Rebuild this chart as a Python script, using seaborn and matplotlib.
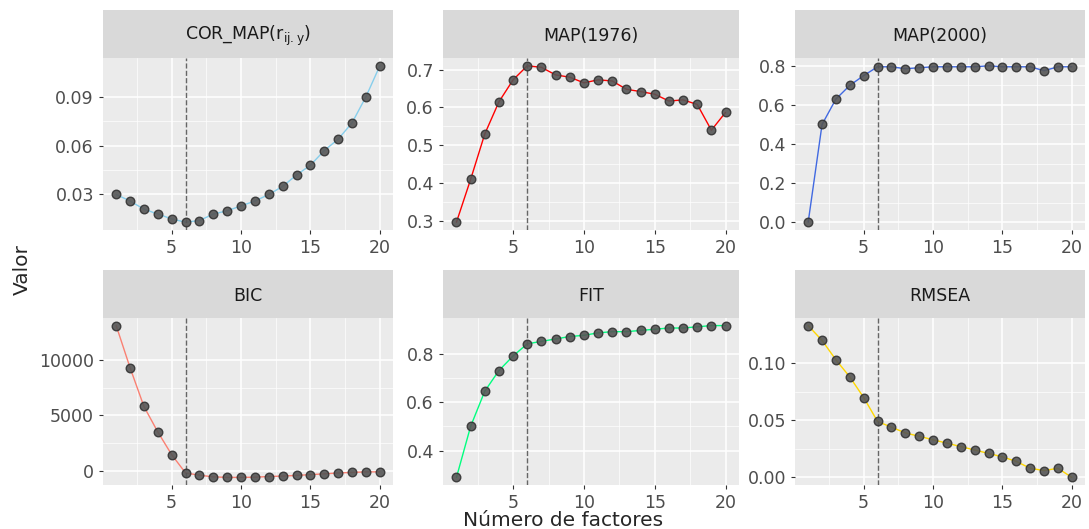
import numpy as np
import pandas as pd
import matplotlib
matplotlib.use("Agg")
import matplotlib.pyplot as plt
import seaborn as sns

factores = list(range(1, 21))
cor_map = [0.030, 0.026, 0.021, 0.018, 0.015, 0.013, 0.014, 0.018, 0.020, 0.023,
           0.026, 0.030, 0.035, 0.042, 0.048, 0.057, 0.064, 0.074, 0.090, 0.109]
map_1976 = [0.297, 0.41, 0.53, 0.615, 0.673, 0.71, 0.706, 0.686, 0.68, 0.665,
            0.673, 0.67, 0.648, 0.642, 0.635, 0.617, 0.62, 0.608, 0.54, 0.587]
map_2000 = [0.0, 0.50, 0.63, 0.70, 0.75, 0.795, 0.795, 0.785, 0.79, 0.795,
            0.795, 0.795, 0.795, 0.80, 0.795, 0.795, 0.795, 0.775, 0.795, 0.795]
bic = [13100, 9300, 5800, 3500, 1450, -200, -400, -550, -600, -600,
       -580, -520, -480, -420, -350, -280, -200, -150, -100, -100]
fit = [0.29, 0.50, 0.645, 0.73, 0.79, 0.84, 0.85, 0.86, 0.87, 0.875,
       0.885, 0.89, 0.89, 0.895, 0.90, 0.905, 0.905, 0.91, 0.915, 0.915]
rmsea = [0.133, 0.12, 0.103, 0.088, 0.07, 0.049, 0.044, 0.039, 0.036, 0.033,
         0.030, 0.027, 0.024, 0.021, 0.018, 0.014, 0.008, 0.006, 0.008, 0.0]

paneles = [
    (r"COR_MAP(r$_{\mathregular{ij.y}}$)", cor_map, "skyblue", [0.03, 0.06, 0.09]),
    ("MAP(1976)", map_1976, "red", [0.3, 0.4, 0.5, 0.6, 0.7]),
    ("MAP(2000)", map_2000, "royalblue", [0.0, 0.2, 0.4, 0.6, 0.8]),
    ("BIC", bic, "salmon", [0, 5000, 10000]),
    ("FIT", fit, "springgreen", [0.4, 0.6, 0.8]),
    ("RMSEA", rmsea, "gold", [0.0, 0.05, 0.10]),
]
etiquetas = [None, None, None, None, None, ["0.00", "0.05", "0.10"]]

sns.set_style("darkgrid", {"axes.facecolor": "#EBEBEB", "grid.color": "white"})
plt.rcParams["font.family"] = ["DejaVu Sans"]

W, H = 1089, 529
fig = plt.figure(figsize=(W / 100, H / 100), dpi=100)
cols = [(103, 393), (443, 739), (795, 1085)]
rows = [(58, 230), (318, 485)]
strip = 48

for i, (titulo, vals, color, ticks) in enumerate(paneles):
    x0, x1 = cols[i % 3]
    y0, y1 = rows[i // 3]
    ax = fig.add_axes([x0 / W, 1 - y1 / H, (x1 - x0) / W, (y1 - y0) / H])
    df = pd.DataFrame({"factores": factores, "valor": vals})
    sns.lineplot(data=df, x="factores", y="valor", color=color, lw=1, ax=ax)
    sns.scatterplot(data=df, x="factores", y="valor", color="#555555", s=38,
                    edgecolor="#333333", linewidth=1, alpha=0.9, ax=ax, zorder=3)
    ax.axvline(6, color="#666666", ls="--", lw=1)
    ax.set_xlim(0.05, 20.95)
    rng = max(vals) - min(vals)
    ax.set_ylim(min(vals) - 0.05 * rng, max(vals) + 0.05 * rng)
    ax.set_xticks([5, 10, 15, 20])
    ax.set_xticks([2.5, 7.5, 12.5, 17.5], minor=True)
    ax.set_yticks(ticks)
    if etiquetas[i]:
        ax.set_yticklabels(etiquetas[i])
    yt = ax.get_yticks()
    ax.set_yticks([(a + b) / 2 for a, b in zip(yt[:-1], yt[1:])], minor=True)
    ax.grid(which="major", color="white", lw=1.1)
    ax.grid(which="minor", color="white", lw=0.5)
    ax.tick_params(which="major", length=3, color="#333333", labelsize=12.5,
                   labelcolor="#4D4D4D", left=True, bottom=True)
    ax.tick_params(which="minor", length=0)
    ax.set_xlabel("")
    ax.set_ylabel("")
    for s in ax.spines.values():
        s.set_visible(False)
    sax = fig.add_axes([x0 / W, 1 - y0 / H, (x1 - x0) / W, strip / H])
    sax.set_facecolor("#D9D9D9")
    sax.set_xticks([])
    sax.set_yticks([])
    for s in sax.spines.values():
        s.set_visible(False)
    sax.text(0.5, 0.45, titulo, ha="center", va="center", fontsize=12.5,
             color="#1A1A1A", transform=sax.transAxes)

fig.text(563 / W, 1 - 521 / H, "Número de factores", ha="center", va="center", fontsize=14.5)
fig.text(22 / W, 1 - 270 / H, "Valor", ha="center", va="center", fontsize=14.5, rotation=90)
fig.savefig("out.png", dpi=100)
